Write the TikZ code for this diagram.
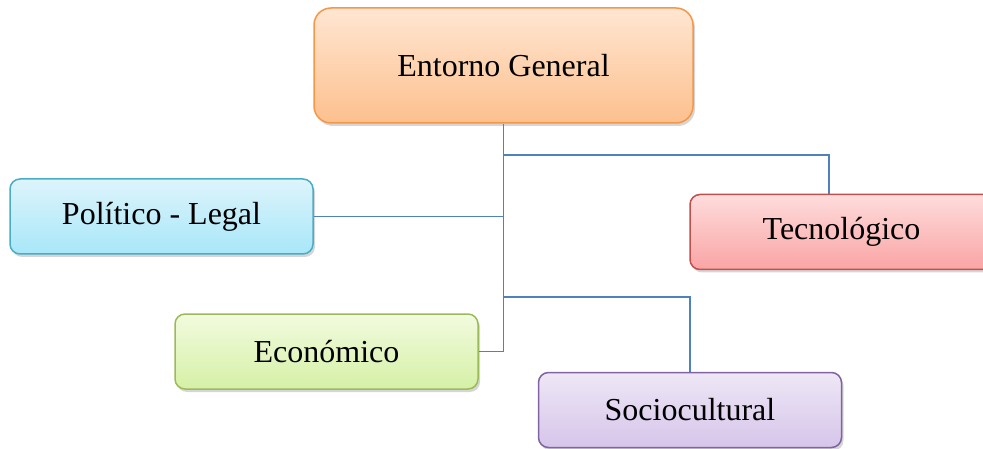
\documentclass[tikz,border=0pt]{standalone}
\usepackage{fontspec}
\setmainfont{Liberation Serif}
\usetikzlibrary{shadows}
\definecolor{linkblue}{HTML}{4F81BD}
\definecolor{orangeBorder}{HTML}{F79646}
\definecolor{orangeTop}{HTML}{FFE6D2}
\definecolor{orangeBot}{HTML}{FCC08E}
\definecolor{blueBorder}{HTML}{4BACC6}
\definecolor{blueTop}{HTML}{DDF4FB}
\definecolor{blueBot}{HTML}{A8E7F9}
\definecolor{redBorder}{HTML}{C0504D}
\definecolor{redTop}{HTML}{FEDCDC}
\definecolor{redBot}{HTML}{FAA4A4}
\definecolor{greenBorder}{HTML}{9BBB59}
\definecolor{greenTop}{HTML}{F2FBDE}
\definecolor{greenBot}{HTML}{D5F0A6}
\definecolor{purpleBorder}{HTML}{8064A2}
\definecolor{purpleTop}{HTML}{EEE7F6}
\definecolor{purpleBot}{HTML}{D6C5EA}
\tikzset{
  box/.style={draw, line width=1.5pt, rounded corners=10pt, minimum width=303pt,
    minimum height=75pt, inner sep=0pt, shading=axis, shading angle=0,
    font=\fontsize{32}{36}\selectfont, text=black,
    drop shadow={opacity=0.32, shadow xshift=2pt, shadow yshift=-3pt}},
  conn/.style={draw=linkblue, line width=1.4pt},
}
\begin{document}
\begin{tikzpicture}[x=1pt, y=-1pt]
\useasboundingbox (0,0) rectangle (983,449);
\coordinate (tecjoin) at (829,194);
% the five topic boxes
\node[box, rounded corners=17pt, minimum width=379pt, minimum height=115pt,
  draw=orangeBorder, top color=orangeTop, bottom color=orangeBot] (eg) at (503.5,65.5) {Entorno General};
\node[box, draw=blueBorder, top color=blueTop, bottom color=blueBot] (pol) at (161.5,216.5) {Político - Legal};
\node[box, draw=redBorder, top color=redTop, bottom color=redBot] (tec) at (841.5,232) {Tecnológico};
\node[box, draw=greenBorder, top color=greenTop, bottom color=greenBot] (eco) at (326.5,351.5) {Económico};
\node[box, draw=purpleBorder, top color=purpleTop, bottom color=purpleBot] (soc) at (690,410) {Sociocultural};
% tree connectors from the main box
\draw[conn] (eg.south) |- (eco.east);
\draw[conn] (pol.east) -- (pol.east -| eg.south);
\draw[conn] (eg.south |- 0,155) -| (tecjoin);
\draw[conn] (eg.south |- 0,297) -| (soc.north);
\end{tikzpicture}
\end{document}
